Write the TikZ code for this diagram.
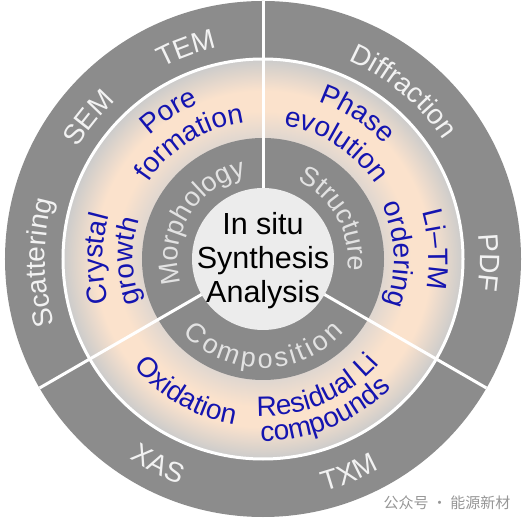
\documentclass[tikz,border=0pt]{standalone}
\usepackage{fontspec}
\setmainfont{Liberation Sans}
\newfontfamily\cjkfont{Noto Sans CJK SC}
\usetikzlibrary{decorations.text}

\definecolor{ringgray}{RGB}{140,140,140}
\definecolor{coregray}{RGB}{138,138,138}
\definecolor{hubfill}{RGB}{236,236,236}
\definecolor{bandgray}{RGB}{203,203,203}
\definecolor{bandlight}{RGB}{222,214,208}
\definecolor{bandpeach}{RGB}{251,226,204}
\definecolor{labelblue}{RGB}{20,20,176}
\definecolor{ringtext}{RGB}{242,242,242}
\definecolor{coretext}{RGB}{226,226,226}
\definecolor{markgray}{RGB}{150,150,150}

\pgfdeclareradialshading{bandglow}{\pgfpoint{0bp}{0bp}}{color(0bp)=(bandlight); color(15bp)=(bandlight); color(18.5bp)=(bandpeach); color(21bp)=(bandpeach); color(25bp)=(bandgray); color(50bp)=(bandgray)}

\newcommand{\outfnt}{\fontsize{28}{30}\selectfont\color{ringtext}}
\newcommand{\corefnt}{\fontsize{27}{30}\selectfont\color{coretext}}
\newcommand{\bluefnt}{\fontsize{28}{30}\selectfont\color{labelblue}}

\newcommand{\upperlabel}[4]{\path[decorate,decoration={text along path,text align=center,text={|#1|#4}}] (#2+85:#3) arc[start angle=#2+85,end angle=#2-85,radius=#3];}
\newcommand{\lowerlabel}[4]{\path[decorate,decoration={text along path,text align=center,text={|#1|#4}}] (#2-85:#3) arc[start angle=#2-85,end angle=#2+85,radius=#3];}

\tikzset{
  divider/.style={white, line width=3pt},
  hub/.style={align=center, font=\fontsize{30.5}{34}\selectfont, text=black}
}

\begin{document}
\begin{tikzpicture}
\useasboundingbox (-263pt,-267pt) rectangle (262pt,259pt);
\fill[ringgray] (0,0) circle (258pt);
\shade[shading=bandglow] (0,0) circle (200pt);
\fill[coregray] (0,0) circle (121pt);
\fill[hubfill] (0,0) circle (71pt);
\draw[divider] (0,0) circle (200pt);
\foreach \a in {90,210,330} \draw[divider] (\a:71pt) -- (\a:258pt);

\upperlabel{\outfnt}{110}{216pt}{TEM}
\upperlabel{\outfnt}{141}{216pt}{SEM}
\upperlabel{\outfnt}{181}{218pt}{Scattering}
\upperlabel{\outfnt}{50}{216pt}{Diffraction}
\upperlabel{\outfnt}{-1}{217pt}{PDF}
\lowerlabel{\outfnt}{243}{240pt}{XAS}
\lowerlabel{\outfnt}{292}{240pt}{TXM}

\upperlabel{\corefnt}{149}{85pt}{Morphology}
\upperlabel{\corefnt}{29}{85pt}{Structure}
\path[decorate,decoration={text along path,text align=fit to path,text={|\corefnt|Composition}}] (223:109pt) arc[start angle=223,end angle=318,radius=109pt];

\upperlabel{\bluefnt}{122.5}{168pt}{Pore}
\upperlabel{\bluefnt}{122}{138pt}{formation}
\upperlabel{\bluefnt}{57}{167pt}{Phase}
\upperlabel{\bluefnt}{57.5}{135pt}{evolution}
\upperlabel{\bluefnt}{180}{160pt}{Crystal}
\upperlabel{\bluefnt}{181}{130pt}{growth}
\upperlabel{\bluefnt}{3}{166pt}{Li–TM}
\upperlabel{\bluefnt}{2}{131pt}{ordering}
\lowerlabel{\bluefnt}{240}{168pt}{Oxidation}
\lowerlabel{\bluefnt}{293}{157pt}{Residual Li}
\lowerlabel{\bluefnt}{292}{182pt}{compounds}

\node[hub] (core) at (0pt,-2pt) {In situ\\Synthesis\\Analysis};
\node[text=markgray, font=\cjkfont\fontsize{15}{16}\selectfont] (wmark) at (184pt,-244pt) {公众号 · 能源新材};
\end{tikzpicture}
\end{document}
